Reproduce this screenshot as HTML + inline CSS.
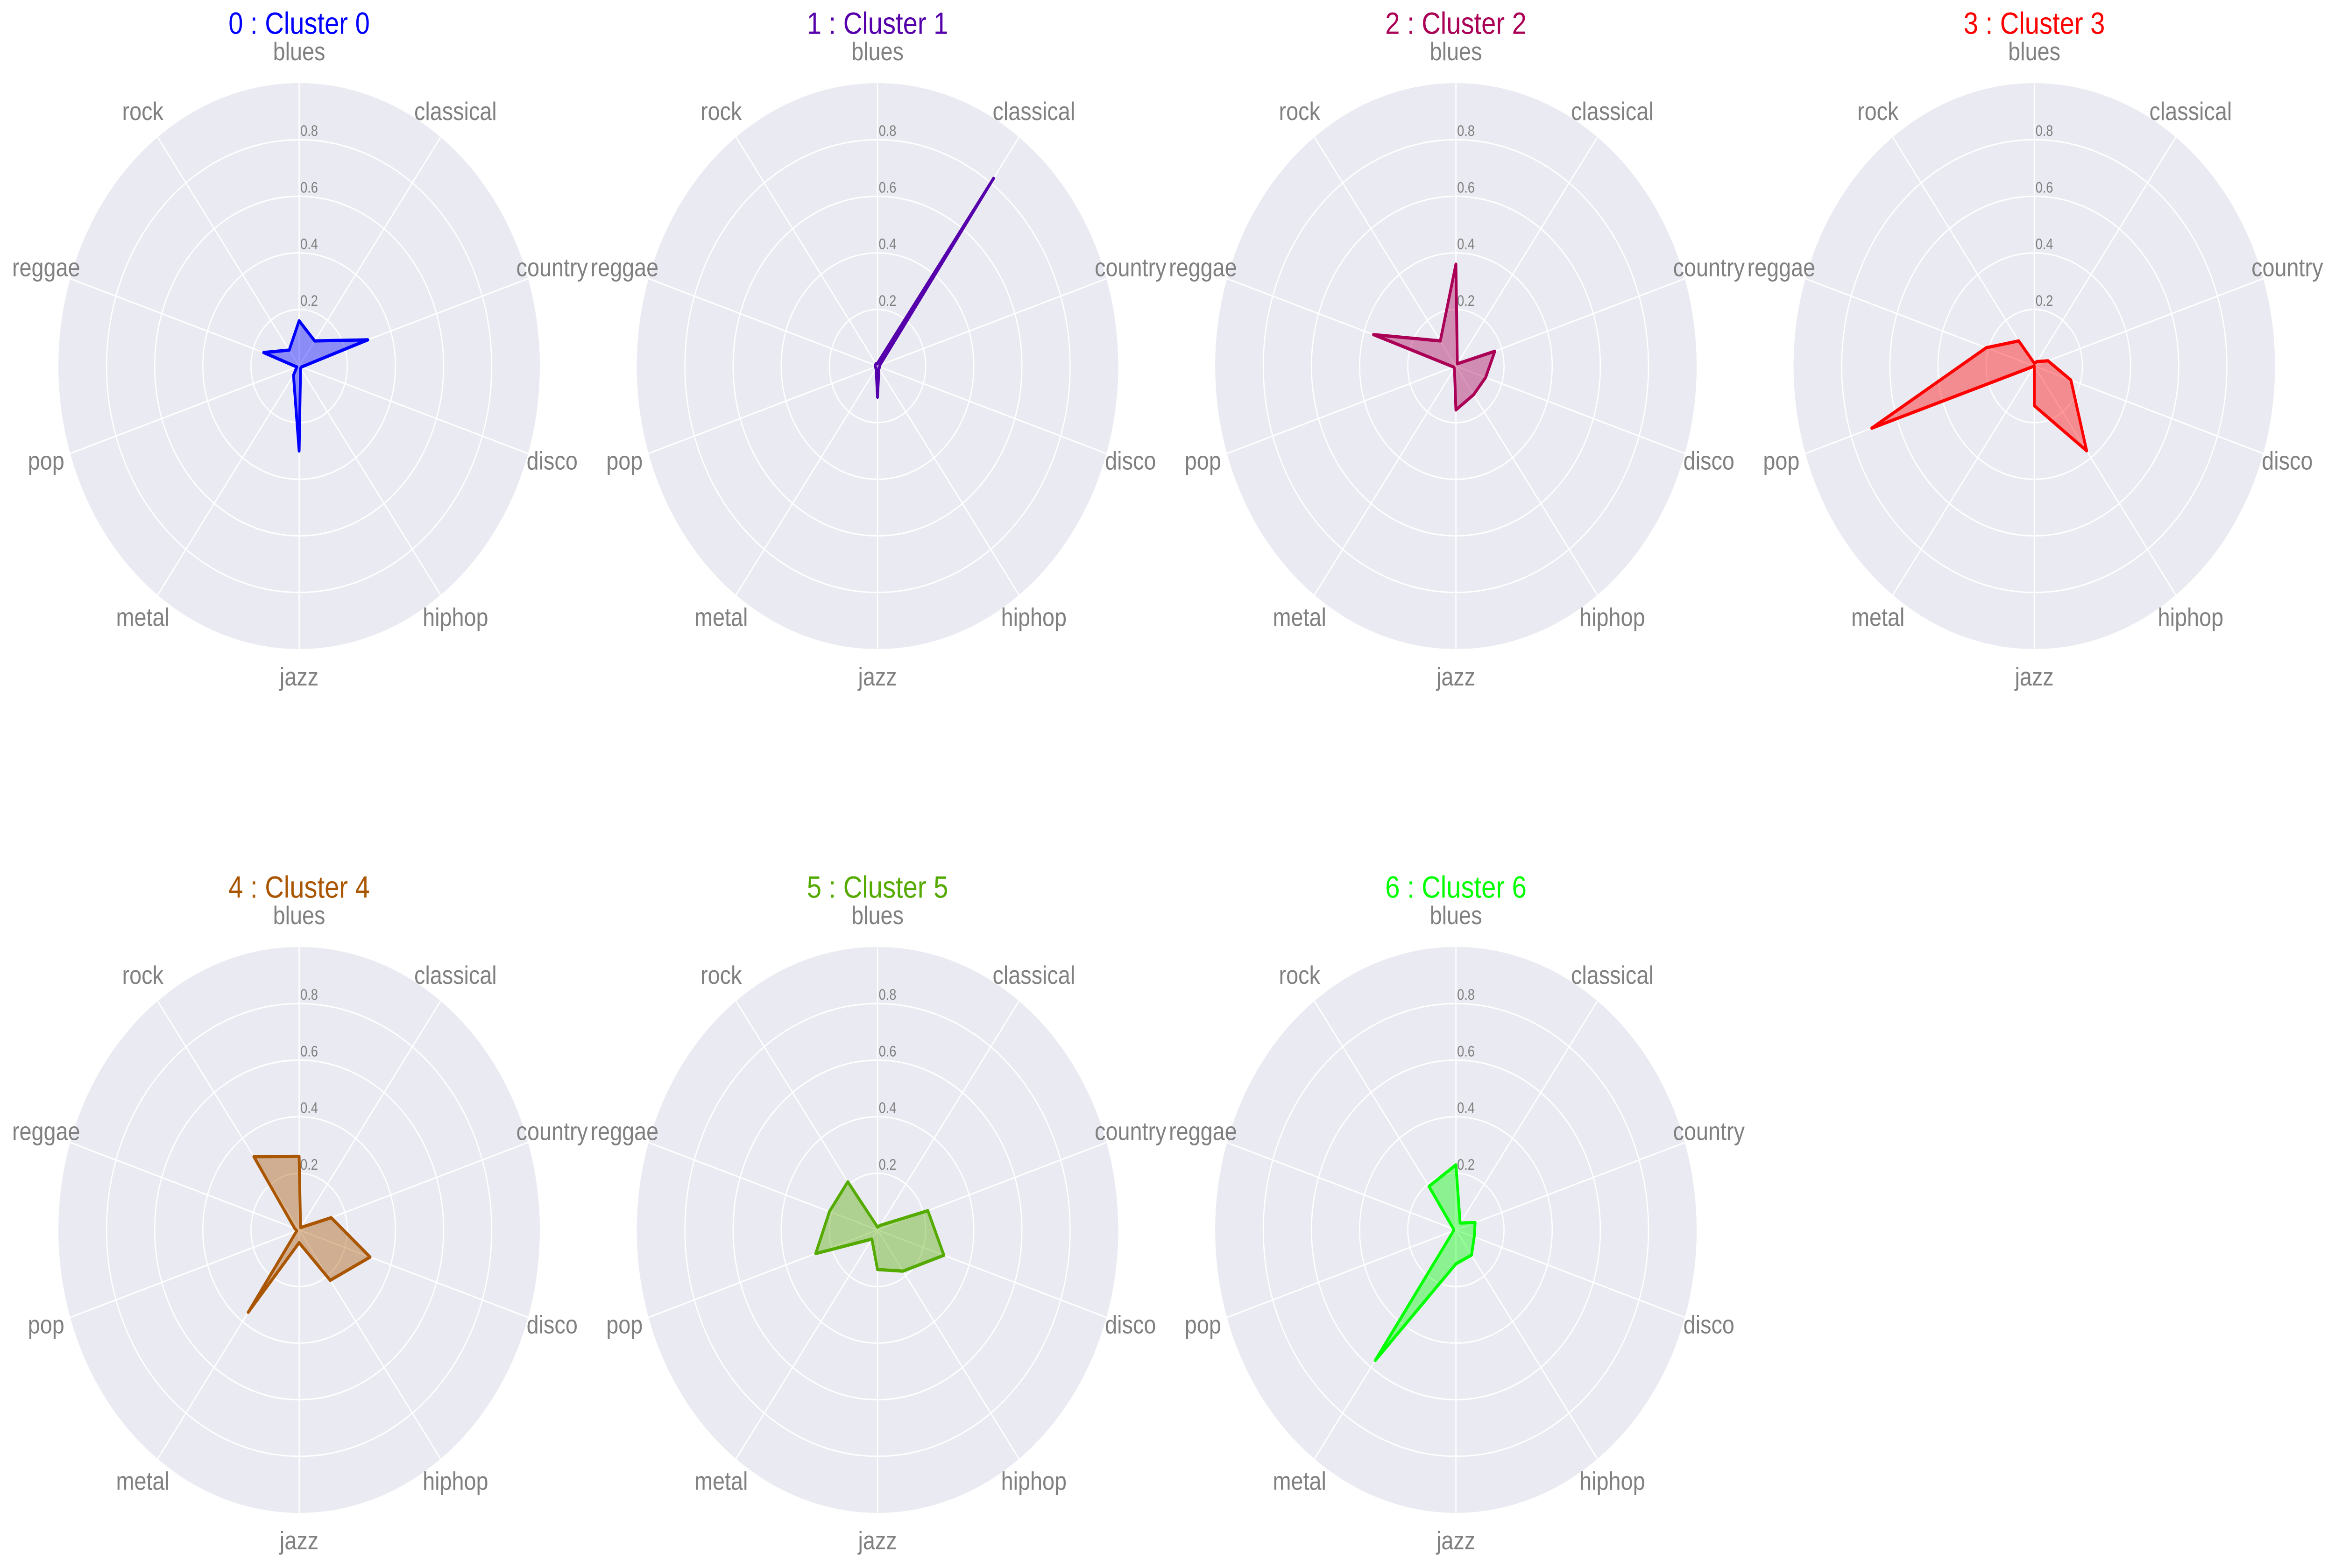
<!DOCTYPE html>
<html><head><meta charset="utf-8"><style>
html,body{margin:0;padding:0;background:#fff;width:100%;height:100%;overflow:hidden;}
svg{display:block;position:fixed;left:0;top:0;width:100vw;height:100vh;font-family:"Liberation Sans",Arial,sans-serif;}
</style></head><body>
<svg id="chart" viewBox="0 0 5878 3358" preserveAspectRatio="none" xmlns="http://www.w3.org/2000/svg"></svg>
<script>
const categories = ["blues","classical","country","disco","hiphop","jazz","metal","pop","reggae","rock"];
const clusterNames = ["0 : Cluster 0","1 : Cluster 1","2 : Cluster 2","3 : Cluster 3","4 : Cluster 4","5 : Cluster 5","6 : Cluster 6"];
const clusterColors = ["#0000ff","#5500aa","#aa0055","#ff0000","#aa5500","#55aa00","#00ff00"];
const cluster0 = [0.16,0.11,0.30,0.01,0.01,0.30,0.04,0.01,0.155,0.07];
const cluster1 = [0.01,0.82,0.01,0.01,0.01,0.11,0.01,0.01,0.01,0.01];
const cluster2 = [0.36,0.01,0.17,0.13,0.125,0.155,0.01,0.01,0.36,0.11];
const cluster3 = [0.01,0.02,0.06,0.16,0.37,0.14,0.0,0.71,0.21,0.11];
const cluster4 = [0.26,0.01,0.14,0.31,0.22,0.045,0.36,0.01,0.02,0.32];
const cluster5 = [0.01,0.02,0.22,0.29,0.18,0.14,0.04,0.27,0.21,0.21];
const cluster6 = [0.23,0.03,0.084,0.08,0.11,0.12,0.57,0.01,0.01,0.19];
const seriesValues = [cluster0,cluster1,cluster2,cluster3,cluster4,cluster5,cluster6];
const tickValues = [0.2,0.4,0.6,0.8];
const tickLabels = ["0.2","0.4","0.6","0.8"];

const NS="http://www.w3.org/2000/svg";
const svg=document.getElementById('chart');
const R=606, colX0=753, colDX=1456, rowY0=784, rowDY=1850;
function mk(tag,attrs,parent){const e=document.createElementNS(NS,tag);for(const k in attrs)e.setAttribute(k,attrs[k]);parent.appendChild(e);return e;}
function ang(i){return i*2*Math.PI/categories.length;}
function px(cx,i,v){return cx+Math.sin(ang(i))*v*R;}
function py(cy,i,v){return cy-Math.cos(ang(i))*v*R;}

seriesValues.forEach((vals,k)=>{
  const cx=colX0+(k%4)*colDX, cy=rowY0+Math.floor(k/4)*rowDY;
  const g=mk('g',{},svg);
  
  
  const bg=mk('circle',{cx:cx,cy:cy,r:R,fill:'#eaeaf2'},g);
  
  
  tickValues.forEach(t=>{
    const c=mk('circle',{cx:cx,cy:cy,r:t*R,fill:'none',stroke:'#fff','stroke-width':3},g);
    
    
  });
  categories.forEach((c,i)=>{
    const l=mk('line',{x1:cx,y1:cy,x2:px(cx,i,1),y2:py(cy,i,1),stroke:'#fff','stroke-width':3},g);
    
    
    const t=mk('text',{x:px(cx,i,1.105),y:py(cy,i,1.105),'text-anchor':'middle','dominant-baseline':'middle','font-size':55,fill:'#808080'},g);
    t.textContent=c;
    
    
  });
  tickValues.forEach((t,j)=>{
    const tx=mk('text',{x:cx+3,y:cy-t*R-8,'font-size':32,fill:'#808080'},g);
    tx.textContent=tickLabels[j];
    
    
  });
  const pts=vals.map((v,i)=>px(cx,i,v).toFixed(1)+','+py(cy,i,v).toFixed(1)).join(' ');
  const poly=mk('polygon',{points:pts,fill:clusterColors[k],'fill-opacity':0.4,stroke:clusterColors[k],'stroke-width':7,'stroke-linejoin':'round'},g);
  
  
  const title=mk('text',{x:cx,y:55+Math.floor(k/4)*rowDY,'text-anchor':'middle','dominant-baseline':'middle','font-size':66,fill:clusterColors[k]},g);
  title.textContent=clusterNames[k];
  
  
});
</script>
</body></html>
